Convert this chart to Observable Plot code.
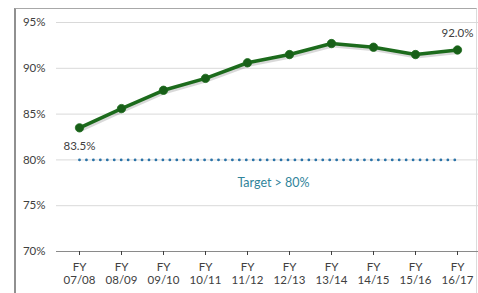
<!DOCTYPE html>
<html>
<head>
<meta charset="utf-8">
<script src="https://cdn.jsdelivr.net/npm/d3@7"></script>
<script src="https://cdn.jsdelivr.net/npm/@observablehq/plot@0.6"></script>
<style>
  html, body { margin: 0; padding: 0; background: #fff; }
  #wrap { position: relative; width: 478px; height: 293px; overflow: hidden; }
  #frame { position: absolute; left: 14px; top: 8px; width: 463px; height: 320px;
           border-top: 1.5px solid #a8a8a8; border-left: 2px solid #909090;
           border-right: 1px solid #dcdcdc; box-sizing: border-box; }
  #chart { position: absolute; left: 0; top: 0; }
  #chart svg { background: transparent; }
</style>
</head>
<body>
<div id="wrap"><div id="frame"></div><div id="chart"></div></div>
<script>
const years = ["07/08","08/09","09/10","10/11","11/12","12/13","13/14","14/15","15/16","16/17"];
const values = [83.5, 85.6, 87.6, 88.9, 90.6, 91.5, 92.7, 92.3, 91.5, 92.0];
const target = 80;
const targetLabel = "Target > 80%";
const yTicks = [70, 75, 80, 85, 90, 95];
const gridTicks = [75, 80, 85, 90, 95];

const data = years.map((y, i) => ({year: y, value: values[i]}));
const firstLast = [data[0], data[data.length - 1]];
const targetLine = [{year: years[0], value: target}, {year: years[years.length - 1], value: target}];

const font = "Lato, 'Open Sans', sans-serif";

const chart = Plot.plot({
  width: 478,
  height: 293,
  marginLeft: 56,
  marginRight: -2,
  marginTop: 22,
  marginBottom: 42,
  style: {fontFamily: font, fontSize: "11.5px", color: "#404040", background: "transparent"},
  x: {type: "point", domain: years, padding: 0.5, label: null},
  y: {domain: [70, 95], label: null},
  marks: [
    Plot.ruleY(gridTicks, {stroke: "#d9d9d9", strokeWidth: 1}),
    Plot.ruleY([70], {stroke: "#8a8a8a", strokeWidth: 1.2}),
    Plot.axisY({ticks: yTicks, tickSize: 0, tickPadding: 11, tickFormat: d => d + "%", fill: "#404040", fontSize: 11.5}),
    Plot.axisX({tickSize: 4, tickPadding: 6, stroke: "#404040", fill: "#404040", fontSize: 11.5,
                tickFormat: d => "FY\n" + d, lineHeight: 1.15}),
    Plot.line(targetLine, {x: "year", y: "value", stroke: "#2a73a8", strokeWidth: 2.8,
                           strokeDasharray: "0 6.95", strokeLinecap: "round"}),
    Plot.text([targetLabel], {x: () => years[5], y: () => target, dx: -16, dy: 23,
                              text: d => d, fill: "#31849b", fontSize: 12.5}),
    Plot.line(data, {x: "year", y: "value", stroke: "#000", strokeOpacity: 0.15, strokeWidth: 4,
                     dx: 1, dy: 2}),
    Plot.line(data, {x: "year", y: "value", stroke: "#1c6b1c", strokeWidth: 3.6}),
    Plot.dot(data, {x: "year", y: "value", r: 4.2, fill: "#185f18", stroke: "#1c6b1c", strokeWidth: 0.8}),
    Plot.text([firstLast[0]], {x: "year", y: "value", dy: 18, text: d => d.value.toFixed(1) + "%",
                               fill: "#404040", fontSize: 11.5}),
    Plot.text([firstLast[1]], {x: "year", y: "value", dy: -17, text: d => d.value.toFixed(1) + "%",
                               fill: "#404040", fontSize: 11.5})
  ]
});
document.getElementById("chart").appendChild(chart);
</script>
</body>
</html>
